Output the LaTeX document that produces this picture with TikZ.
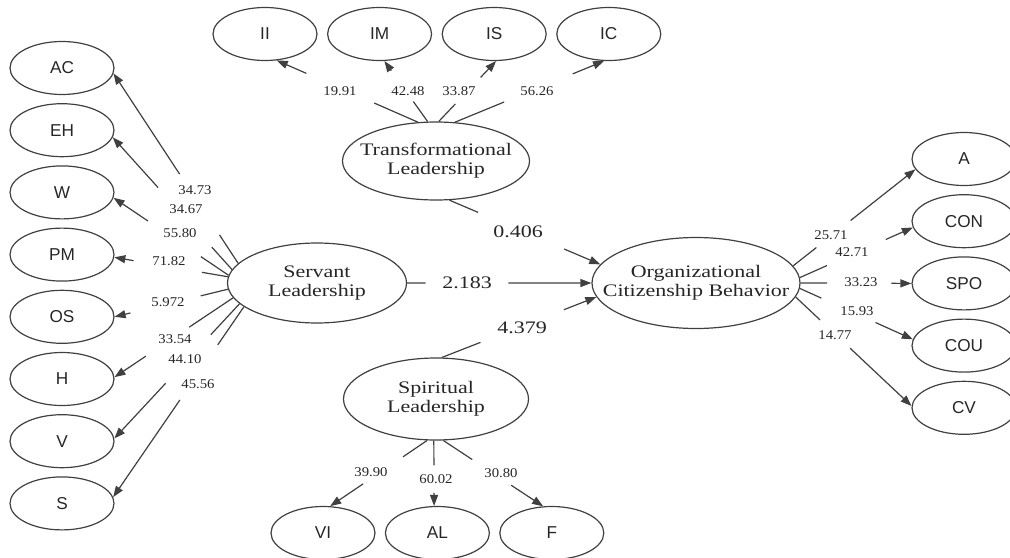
\documentclass[tikz,border=0pt]{standalone}
\usepackage{fontspec}
\setmainfont{Liberation Serif}
\newfontfamily\latfont{Liberation Serif}[FakeStretch=1.25]
\newfontfamily\numfont{Liberation Serif}[FakeStretch=1.1]
\newfontfamily\indfont{Liberation Sans}
\usetikzlibrary{arrows.meta,positioning,shapes.geometric,calc}

\begin{document}
\begin{tikzpicture}[
      x=0.5pt, y=-0.5pt,
      lat/.style={ellipse, draw=black!75, line width=0.6pt, align=center,
                  inner xsep=-15pt, inner ysep=-5pt, text=black!85,
                  font=\latfont\fontsize{8.8}{9.6}\selectfont},
      ind/.style={ellipse, draw=black!75, line width=0.6pt, inner sep=0pt,
                  minimum width=52pt, minimum height=26.5pt, text=black!85,
                  font=\indfont\fontsize{8.6}{10}\selectfont},
      num/.style={font=\numfont\fontsize{6.7}{8}\selectfont, text=black!85, inner sep=1pt},
      coef/.style={font=\latfont\fontsize{8.8}{10}\selectfont, text=black!85, inner sep=1pt},
      arr/.style={-{Triangle[length=5.5pt, width=4pt]}, draw=black!75, line width=0.6pt},
      broken/.style 2 args={to path={(\tikztostart) -- ($(\tikztostart)!#1!(\tikztotarget)$)
          ($(\tikztostart)!#2!(\tikztotarget)$) -- (\tikztotarget)}}
    ]
    \useasboundingbox (0,0) rectangle (1010,557);

    % ---- latent constructs ----
    \node[lat, minimum width=93.5pt, minimum height=39pt] (TL) at (436,161)
      {Transformational\\ Leadership};
    \node[lat, minimum width=89.5pt, minimum height=40pt] (SL) at (317,283)
      {Servant\\ Leadership};
    \node[lat, minimum width=104pt, minimum height=45.5pt] (OCB) at (696,283)
      {Organizational\\ Citizenship Behavior};
    \node[lat, minimum width=92.5pt, minimum height=41pt] (SpL) at (436,399)
      {Spiritual\\ Leadership};

    % ---- servant leadership indicators ----
    \node[ind] (AC) at (62,68) {AC};
    \node[ind, below=4pt of AC] (EH) {EH};
    \node[ind, below=4pt of EH] (W) {W};
    \node[ind, below=4pt of W] (PM) {PM};
    \node[ind, below=4pt of PM] (OS) {OS};
    \node[ind, below=4pt of OS] (H) {H};
    \node[ind, below=4pt of H] (V) {V};
    \node[ind, below=4pt of V] (S) {S};

    % ---- transformational leadership indicators ----
    \node[ind] (II) at (265,34) {II};
    \node[ind, right=4.7pt of II] (IM) {IM};
    \node[ind, right=4.7pt of IM] (IS) {IS};
    \node[ind, right=4.7pt of IS] (IC) {IC};

    % ---- spiritual leadership indicators ----
    \node[ind] (VI) at (323,533) {VI};
    \node[ind, right=4.6pt of VI] (AL) {AL};
    \node[ind, right=4.6pt of AL] (F) {F};

    % ---- OCB indicators ----
    \node[ind] (A) at (964,159) {A};
    \node[ind, below=4pt of A] (CON) {CON};
    \node[ind, below=4pt of CON] (SPO) {SPO};
    \node[ind, below=4pt of SPO] (COU) {COU};
    \node[ind, below=4pt of COU] (CV) {CV};

    % ---- servant loadings ----
    \draw[arr, broken={.15}{.47}] (SL.166) to (AC.-6);
    \draw[arr, broken={.17}{.62}] (SL.171) to (EH.-8);
    \draw[arr, broken={.24}{.70}] (SL.175) to (W.-6);
    \draw[arr, broken={.23}{.83}] (SL.176) to (PM.-3);
    \draw[arr, broken={.24}{.86}] (SL.184) to (OS.0);
    \draw[arr, broken={.37}{.735}] (SL.190) to (H.2);
    \draw[arr, broken={.23}{.59}] (SL.195) to (V.3);
    \draw[arr, broken={.20}{.49}] (SL.198) to (S.7);
    \node[num] (vAC) at (195,190) {34.73};
    \node[num] (vEH) at (186,209) {34.67};
    \node[num] (vW) at (180,233) {55.80};
    \node[num] (vPM) at (169,261) {71.82};
    \node[num] (vOS) at (168,302) {5.972};
    \node[num] (vH) at (175,339) {33.54};
    \node[num] (vV) at (185,359) {44.10};
    \node[num] (vS) at (198,384) {45.56};

    % ---- transformational loadings ----
    \draw[arr, broken={.31}{.79}] (TL.115) to (II.-66);
    \draw[arr, broken={.33}{.84}] (TL.102) to (IM.-80);
    \draw[arr, broken={.29}{.73}] (TL.86) to (IS.-86);
    \draw[arr, broken={.33}{.79}] (TL.64) to (IC.-100);
    \node[num] (vII) at (340,91) {19.91};
    \node[num] (vIM) at (408,91) {42.48};
    \node[num] (vIS) at (459,91) {33.87};
    \node[num] (vIC) at (537,91) {56.26};

    % ---- OCB loadings ----
    \draw[arr, broken={.19}{.47}] (OCB.10) to (A.192);
    \draw[arr, broken={.24}{.76}] (OCB.3) to (CON.187);
    \draw[arr, broken={.24}{.82}] (OCB.0) to (SPO.180);
    \draw[arr, broken={.19}{.67}] (OCB.-3) to (COU.173);
    \draw[arr, broken={.21}{.47}] (OCB.-8) to (CV.178);
    \node[num] (vA) at (831,235) {25.71};
    \node[num] (vCON) at (852,252) {42.71};
    \node[num] (vSPO) at (861,282) {33.23};
    \node[num] (vCOU) at (857,311) {15.93};
    \node[num] (vCV) at (835,335) {14.77};

    % ---- spiritual loadings ----
    \draw[arr, broken={.25}{.66}] (SpL.-102) to (VI.75);
    \draw[arr, broken={.38}{.80}] (SpL.-93) to (AL.97);
    \draw[arr, broken={.29}{.68}] (SpL.-80) to (F.108);
    \node[num] (vVI) at (371,472) {39.90};
    \node[num] (vAL) at (436,479) {60.02};
    \node[num] (vF) at (501,473) {30.80};

    % ---- structural paths ----
    \draw[arr, broken={.19}{.76}] (TL.-71) to (OCB.169);
    \draw[arr, broken={.10}{.55}] (SL.east) to (OCB.west);
    \draw[arr, broken={.25}{.79}] (SpL.82) to (OCB.188);
    \node[coef] (cTL) at (518,232) {0.406};
    \node[coef] (cSL) at (467,283) {2.183};
    \node[coef] (cSpL) at (522,328) {4.379};
  \end{tikzpicture}
\end{document}
